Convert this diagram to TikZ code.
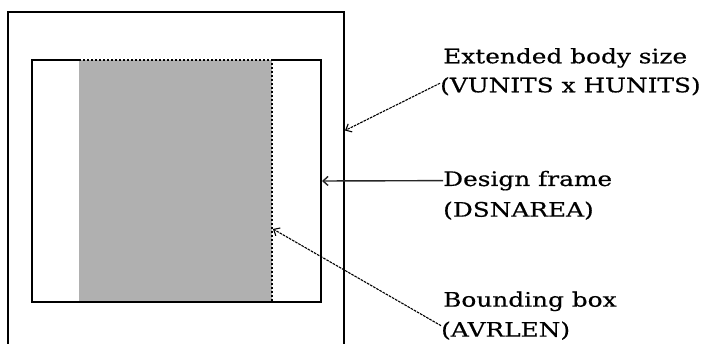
\documentclass[tikz,border=0pt]{standalone}
\usepackage{fontspec}
\setmainfont[FakeStretch=1.24,FakeBold=0.5]{DejaVu Serif}
\usetikzlibrary{arrows.meta}
\tikzset{
  frameline/.style={draw=black, line width=1.3pt},
  bbline/.style={draw=black, line width=1.6pt, dash pattern=on 2.4pt off 1.6pt},
  lbl/.style={anchor=base west, inner sep=0pt, font=\fontsize{20}{29}\selectfont},
  callout/.style={line width=1.1pt, -{Straight Barb[length=5pt,width=9pt]}},
  callsolid/.style={callout, draw=black!85, line width=1.4pt},
  calldash/.style={callout, dash pattern=on 2.6pt off 1pt},
}
\begin{document}
\begin{tikzpicture}[x=1pt,y=-1pt]
\useasboundingbox (0,0) rectangle (705,344);
\begin{scope}
\clip (0,0) rectangle (705,344);
% outer extended body (open at bottom)
\path[frameline] (8,350) -- (8,12) -- (344,12) -- (344,350);
% gray bounding area
\fill[fill={rgb,255:red,176;green,176;blue,176}] (79,60) rectangle (272,302);
% inner design frame
\path[frameline] (79,60) -- (32,60) -- (32,302) -- (321,302) -- (321,60) -- (272,60);
% dotted bounding edges
\path[bbline] (79,60) -- (272,60) -- (272,302);
\end{scope}
% tips
\coordinate (tipA) at (345,130.5);
\coordinate (tipB) at (322,181);
\coordinate (tipC) at (273,229);
% labels
\node[lbl] (ext1) at (443,63.3) {Extended body size};
\node[lbl] (ext2) at (440,92.3) {(VUNITS x HUNITS)};
\node[lbl] (dsn1) at (443,186) {Design frame};
\node[lbl] (dsn2) at (443,216.7) {(DSNAREA)};
\node[lbl] (bbx1) at (443,306.7) {Bounding box};
\node[lbl] (bbx2) at (441,336.7) {(AVRLEN)};
% callouts
\draw[calldash] ([yshift=3pt]ext2.west) -- (tipA);
\draw[callsolid] (dsn1.west) -- (tipB);
\draw[calldash] ([yshift=5pt]bbx2.west) -- (tipC);
\end{tikzpicture}
\end{document}
